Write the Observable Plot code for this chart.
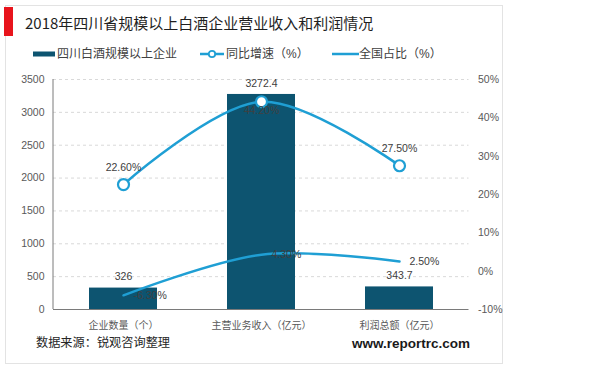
<!DOCTYPE html>
<html><head><meta charset="utf-8">
<script src="https://cdn.jsdelivr.net/npm/d3@7"></script>
<script src="https://cdn.jsdelivr.net/npm/@observablehq/plot@0.6"></script>
<style>
html,body{margin:0;padding:0;background:#fff;}
#wrap{position:relative;width:600px;height:370px;overflow:hidden;font-family:"Liberation Sans","Noto Sans CJK SC",sans-serif;}
.abs{position:absolute;white-space:nowrap;}
</style></head>
<body><div id="wrap"></div>
<script>
const categories = ["企业数量（个）", "主营业务收入（亿元）", "利润总额（亿元）"];
const enterpriseValues = [326, 3272.4, 343.7];
const yoyGrowth = [22.6, 44.2, 27.5];          // 同比增速（%）
const nationalShare = [-6.3, 4.3, 2.5];        // 全国占比（%）
const leftTicks = [0, 500, 1000, 1500, 2000, 2500, 3000, 3500];
const pctTicks = [-10, 0, 10, 20, 30, 40, 50];
const seriesNames = ["四川白酒规模以上企业", "同比增速（%）", "全国占比（%）"];
const titleText = "2018年四川省规模以上白酒企业营业收入和利润情况";
const sourceText = "数据来源：锐观咨询整理";
const siteText = "www.reportrc.com";

const barColor = "#0d5470", lineColor = "#1f9fd4", textColor = "#404040";
const yMax = 3500, pMin = -10, pMax = 50;
const toY = p => (p - pMin) / (pMax - pMin) * yMax;
const fromY = v => Math.round(v / yMax * (pMax - pMin) + pMin) + "%";

const rows = categories.map((c, i) => ({cat: c, value: enterpriseValues[i], yoy: yoyGrowth[i], share: nationalShare[i]}));
const fmtPct = p => p.toFixed(2) + "%";

const chart = Plot.plot({
  width: 600, height: 370,
  marginLeft: 53, marginRight: 131.5, marginTop: 79, marginBottom: 61,
  style: {fontFamily: '"Liberation Sans","Noto Sans CJK SC",sans-serif', fontSize: "10.5px", color: "#595959", background: "transparent"},
  x: {domain: categories, paddingInner: 0.51, paddingOuter: 0.255},
  y: {domain: [0, yMax]},
  marks: [
    Plot.ruleY(leftTicks.filter(d => d > 0), {stroke: "#d9d9d9", strokeDasharray: "3,3"}),
    Plot.axisY({anchor: "left", ticks: leftTicks, tickFormat: d => String(d), tickSize: 0, tickPadding: 9, label: null, fontSize: 10.5}),
    Plot.axisY({anchor: "right", ticks: pctTicks.map(toY), tickFormat: fromY, tickSize: 0, tickPadding: 9, label: null, fontSize: 10.5}),
    Plot.axisX({tickSize: 0, tickPadding: 12, label: null, fontSize: 10}),
    Plot.barY(rows, {x: "cat", y: "value", fill: barColor}),
    Plot.ruleY([0], {stroke: "#7a7a7a", strokeWidth: 1}),
    Plot.line(rows, {x: "cat", y: d => toY(d.yoy), curve: "catmull-rom", stroke: lineColor, strokeWidth: 2.5}),
    Plot.line(rows, {x: "cat", y: d => toY(d.share), curve: "catmull-rom", stroke: lineColor, strokeWidth: 2.5}),
    Plot.dot(rows, {x: "cat", y: d => toY(d.yoy), r: 5.5, fill: "white", stroke: lineColor, strokeWidth: 2.2}),
    Plot.text(rows, {x: "cat", y: "value", text: d => String(d.value), dy: -11, fill: textColor, fontSize: 10.5}),
    Plot.text(rows, {filter: (d, i) => i !== 1, x: "cat", y: d => toY(d.yoy), text: d => fmtPct(d.yoy), dy: -17, fill: textColor, fontSize: 10.5}),
    Plot.text(rows, {filter: (d, i) => i === 1, x: "cat", y: d => toY(d.yoy), text: d => fmtPct(d.yoy), dy: 9, fill: textColor, fontSize: 10.5}),
    Plot.text(rows, {x: "cat", y: d => toY(d.share), text: d => fmtPct(d.share), dx: 10, textAnchor: "start", fill: textColor, fontSize: 10.5})
  ]
});

// left axis line using the chart's own scales
const xs = chart.scale("x"), ys = chart.scale("y");
const ns = "http://www.w3.org/2000/svg";
const axisLine = document.createElementNS(ns, "line");
axisLine.setAttribute("x1", xs.range[0]); axisLine.setAttribute("x2", xs.range[0]);
axisLine.setAttribute("y1", ys.range[0]); axisLine.setAttribute("y2", ys.range[1]);
axisLine.setAttribute("stroke", "#7a7a7a");
chart.appendChild(axisLine);

const wrap = document.getElementById("wrap");
// frame
const frame = document.createElement("div");
frame.className = "abs";
Object.assign(frame.style, {left: "5px", top: "5px", width: "496px", height: "357px", border: "1px solid #e3e3e3"});
wrap.appendChild(frame);
chart.style.position = "absolute"; chart.style.left = "0"; chart.style.top = "0";
wrap.appendChild(chart);

function add(html, css) {
  const d = document.createElement("div");
  d.className = "abs"; d.innerHTML = html; Object.assign(d.style, css); wrap.appendChild(d); return d;
}
// red marker and title
add("", {left: "4px", top: "7px", width: "9px", height: "29px", background: "#e8141c"});
add(titleText, {left: "25px", top: "13px", fontSize: "15px", lineHeight: "20px", color: "#1f1f1f", fontFamily: '"Noto Sans CJK SC","Liberation Sans",sans-serif'});

// legend
const legendY = 53.5;
add('<svg width="23" height="6"><rect x="0" y="0.5" width="22" height="5" fill="' + barColor + '"/></svg>', {left: "33px", top: (legendY - 3) + "px", lineHeight: "0"});
add(seriesNames[0], {left: "57px", top: (legendY - 8) + "px", fontSize: "12px", lineHeight: "16px", color: textColor});
add('<svg width="26" height="10"><line x1="0" y1="5" x2="24" y2="5" stroke="' + lineColor + '" stroke-width="2.5"/><circle cx="12" cy="5" r="3.2" fill="white" stroke="' + lineColor + '" stroke-width="1.8"/></svg>', {left: "200px", top: (legendY - 5) + "px", lineHeight: "0"});
add(seriesNames[1], {left: "226px", top: (legendY - 8) + "px", fontSize: "12px", lineHeight: "16px", color: textColor});
add('<svg width="28" height="10"><line x1="0" y1="5" x2="27" y2="5" stroke="' + lineColor + '" stroke-width="2.5"/></svg>', {left: "332px", top: (legendY - 5) + "px", lineHeight: "0"});
add(seriesNames[2], {left: "359px", top: (legendY - 8) + "px", fontSize: "12px", lineHeight: "16px", color: textColor});

// source and site
add(sourceText, {left: "36px", top: "335px", fontSize: "12.2px", lineHeight: "17px", color: "#262626"});
add(siteText, {left: "352px", top: "335px", fontSize: "13.5px", lineHeight: "17px", fontWeight: "bold", color: "#1a1a1a"});
</script></body></html>
